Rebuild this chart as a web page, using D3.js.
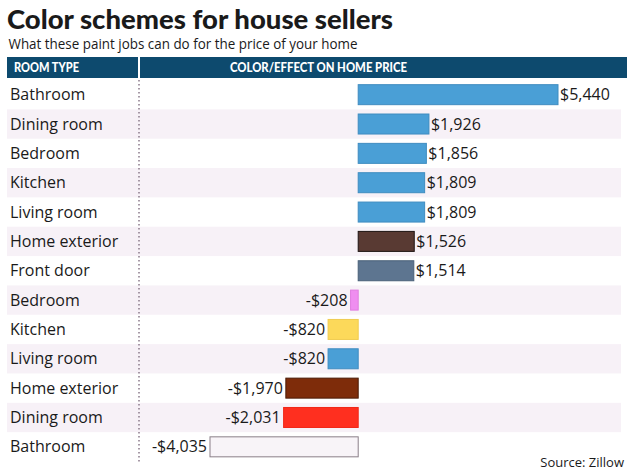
<!DOCTYPE html>
<html lang="en">
<head>
<meta charset="UTF-8">
<title>Color schemes for house sellers</title>
<script src="https://d3js.org/d3.v7.min.js"></script>
<style>
  body { margin: 0; background: #fff; }
  text { font-family: "Open Sans", "Noto Sans", sans-serif; }
</style>
</head>
<body>
<div id="chart"></div>
<script>
    // data
    const rooms = ["Bathroom", "Dining room", "Bedroom", "Kitchen", "Living room", "Home exterior", "Front door",
                   "Bedroom", "Kitchen", "Living room", "Home exterior", "Dining room", "Bathroom"];
    const values = [5440, 1926, 1856, 1809, 1809, 1526, 1514, -208, -820, -820, -1970, -2031, -4035];
    const paints = ["#4a9fd6", "#4a9fd6", "#4a9fd6", "#4a9fd6", "#4a9fd6", "#593a33", "#5d7590",
                    "#ef8ef0", "#fcd95a", "#4a9fd6", "#7e2c0a", "#ff2f1f", "#f8f4f8"];
    const outlines = ["#3f8cc0", "#3f8cc0", "#3f8cc0", "#3f8cc0", "#3f8cc0", "#1e1412", "#4a6078",
                      "#e07ee0", "#f0cc50", "#3f8cc0", "#4a1a06", "#f02818", "#8a7f88"];

    const rows = values.map((v, i) => ({ i: i, room: rooms[i], value: v, fill: paints[i], stroke: outlines[i] }));

    const width = 633, height = 472;
    const rowTop = 80, rowBottom = 461.5;

    const svg = d3.select("#chart").append("svg")
        .attr("width", width)
        .attr("height", height);

    const y = d3.scaleBand()
        .domain(d3.range(rows.length))
        .range([rowTop, rowBottom]);

    const x = d3.scaleLinear()
        .domain([-4035, 5440])
        .range([210, 558]);

    // title block
    svg.append("text")
        .attr("x", 7).attr("y", 28.5)
        .style("font-family", "Lato, sans-serif")
        .style("font-size", "27px").style("font-weight", "900")
        .attr("textLength", 386).attr("lengthAdjust", "spacingAndGlyphs")
        .attr("fill", "#1a1a1a")
        .text("Color schemes for house sellers");

    svg.append("text")
        .attr("x", 8.5).attr("y", 49)
        .style("font-size", "14px")
        .attr("textLength", 349).attr("lengthAdjust", "spacingAndGlyphs")
        .attr("fill", "#1a1a1a")
        .text("What these paint jobs can do for the price of your home");

    // header bar
    svg.append("rect").attr("x", 7).attr("y", 57).attr("width", 131).attr("height", 21).attr("fill", "#0d4a6e");
    svg.append("rect").attr("x", 140).attr("y", 57).attr("width", 487).attr("height", 21).attr("fill", "#0d4a6e");

    svg.append("text")
        .attr("x", 14).attr("y", 72.3)
        .style("font-family", "Lato, sans-serif")
        .style("font-size", "13.5px").style("font-weight", "900")
        .attr("textLength", 65).attr("lengthAdjust", "spacingAndGlyphs")
        .attr("fill", "#fff")
        .text("ROOM TYPE");

    svg.append("text")
        .attr("x", 230).attr("y", 72.3)
        .style("font-family", "Lato, sans-serif")
        .style("font-size", "13.5px").style("font-weight", "900")
        .attr("textLength", 177).attr("lengthAdjust", "spacingAndGlyphs")
        .attr("fill", "#fff")
        .text("COLOR/EFFECT ON HOME PRICE");

    // alternating row shading
    svg.selectAll(".band")
        .data(rows.filter(d => d.i % 2 === 1))
        .join("rect")
        .attr("class", "band")
        .attr("x", 7)
        .attr("y", d => y(d.i))
        .attr("width", 614)
        .attr("height", y.bandwidth())
        .attr("fill", "#f7f1f7");

    // dotted divider
    svg.append("line")
        .attr("x1", 139).attr("x2", 139)
        .attr("y1", rowTop).attr("y2", rowBottom)
        .attr("stroke", "#8a7a8a")
        .attr("stroke-width", 1.5)
        .attr("stroke-dasharray", "1.5,2.5");

    // room labels
    svg.selectAll(".room")
        .data(rows)
        .join("text")
        .attr("class", "room")
        .attr("x", 10)
        .attr("y", d => y(d.i) + y.bandwidth() / 2 + 5.5)
        .style("font-size", "16px")
        .attr("fill", "#1a1a1a")
        .text(d => d.room);

    // bars
    const barH = 20;
    svg.selectAll(".bar")
        .data(rows)
        .join("rect")
        .attr("class", "bar")
        .attr("x", d => x(Math.min(0, d.value)))
        .attr("y", d => y(d.i) + (y.bandwidth() - barH) / 2)
        .attr("width", d => Math.abs(x(d.value) - x(0)))
        .attr("height", barH)
        .attr("fill", d => d.fill)
        .attr("stroke", d => d.stroke)
        .attr("stroke-width", 1);

    // value labels
    const fmt = d3.format(",");
    svg.selectAll(".val")
        .data(rows)
        .join("text")
        .attr("class", "val")
        .attr("x", d => d.value >= 0 ? x(d.value) + 2 : x(d.value) - 3)
        .attr("y", d => y(d.i) + y.bandwidth() / 2 + 5.5)
        .attr("text-anchor", d => d.value >= 0 ? "start" : "end")
        .style("font-size", "16px")
        .attr("fill", "#1a1a1a")
        .text(d => (d.value < 0 ? "-$" : "$") + fmt(Math.abs(d.value)));

    svg.append("text")
        .attr("x", 624).attr("y", 467)
        .attr("text-anchor", "end")
        .style("font-size", "13px")
        .attr("fill", "#1a1a1a")
        .text("Source: Zillow");
</script>
</body>
</html>
